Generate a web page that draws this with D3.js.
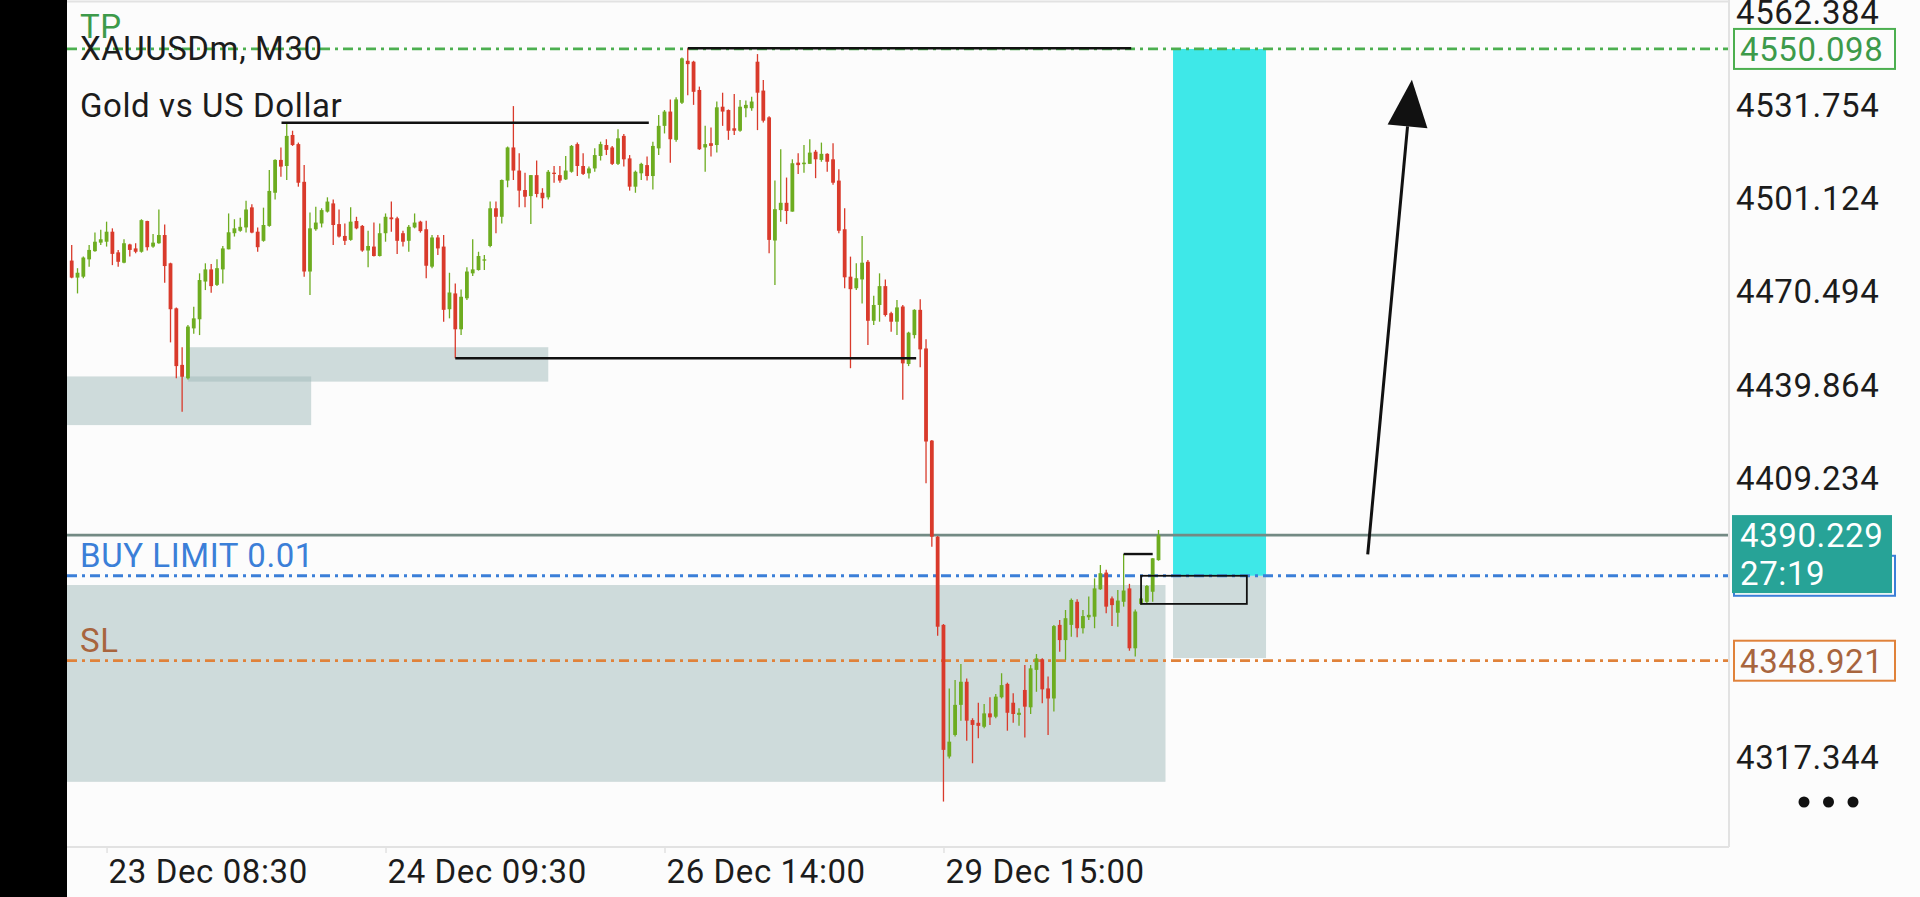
<!DOCTYPE html>
<html>
<head>
<meta charset="utf-8">
<script src="https://cdn.jsdelivr.net/npm/d3@7"></script>
<style>
  html, body { margin: 0; padding: 0; background: #fcfcfc; overflow: hidden; }
  svg { display: block; font-family: Roboto, "Noto Sans", sans-serif; }
  svg text { letter-spacing: 0.6px; }
</style>
</head>
<body>
<svg id="chart" width="1920" height="897"></svg>
<script>
// XAUUSDm, M30 — open / high / low / close per bar
const opens = [
  4480.5,4474.9,4475.2,4480.9,4483.6,4486.4,4486.7,4490.0,4483.2,4479.8,
  4485.8,4484.5,4483.4,4493.5,4485.1,4486.2,4488.9,4479.6,4464.8,4446.2,
  4441.8,4458.2,4461.2,4473.6,4477.6,4472.5,4477.6,4484.2,4489.5,4490.3,
  4491.4,4498.0,4490.0,4487.0,4491.9,4502.8,4513.6,4511.6,4521.8,4518.8,
  4506.4,4476.9,4490.8,4492.7,4496.6,4499.3,4492.5,4488.6,4487.3,4493.5,
  4491.9,4483.8,4485.1,4482.0,4489.5,4494.7,4494.4,4489.5,4487.0,4491.4,
  4493.3,4490.8,4478.5,4488.1,4485.1,4464.5,4469.7,4457.9,4468.1,4476.3,
  4477.4,4480.5,4485.3,4497.7,4494.9,4506.8,4517.7,4510.1,4503.7,4501.7,
  4508.6,4502.8,4501.3,4509.4,4508.6,4507.2,4509.7,4518.8,4511.6,4509.2,
  4510.8,4514.9,4518.5,4517.7,4512.3,4521.5,4514.1,4504.8,4509.2,4511.9,
  4508.3,4517.4,4524.8,4529.5,4520.2,4532.4,4546.2,4545.9,4536.6,4517.7,
  4519.1,4518.5,4531.1,4530.0,4524.0,4523.2,4530.6,4530.6,4545.9,4536.4,
  4527.6,4487.1,4497.1,4499.5,4496.6,4512.7,4512.2,4512.3,4516.3,4513.6,
  4515.6,4513.8,4506.8,4490.8,4475.2,4471.4,4474.3,4480.1,4460.7,4465.9,
  4472.1,4463.2,4460.4,4465.4,4446.5,4456.0,4464.3,4451.6,4421.3,4389.7,
  4360.7,4317.4,4324.5,4334.4,4342.0,4329.4,4328.5,4327.2,4331.6,4330.5,
  4336.9,4341.3,4335.1,4331.1,4339.3,4333.6,4345.9,4349.4,4339.8,4336.5,
  4360.7,4355.7,4360.7,4368.3,4359.6,4363.2,4363.4,4372.4,4377.9,4369.4,
  4364.7,4368.3,4372.7,4353.0,4367.6,4368.3,4371.6,4382.0
];
const highs = [
  4485.6,4478.0,4481.8,4485.6,4489.7,4490.6,4493.3,4491.1,4484.0,4487.5,
  4486.0,4486.2,4494.1,4493.6,4489.2,4497.3,4492.4,4479.8,4465.1,4452.0,
  4459.3,4465.3,4476.3,4479.6,4479.4,4480.9,4485.3,4496.0,4494.1,4494.6,
  4500.2,4499.0,4491.4,4497.9,4510.3,4513.8,4517.7,4525.8,4523.2,4519.3,
  4511.9,4496.3,4498.2,4497.7,4501.3,4500.6,4497.3,4492.7,4498.0,4494.9,
  4492.2,4490.3,4493.0,4492.7,4496.0,4499.9,4494.9,4490.3,4492.2,4496.0,
  4493.6,4493.6,4488.9,4488.9,4488.9,4476.5,4473.0,4471.0,4478.3,4487.5,
  4483.4,4482.3,4499.9,4499.9,4507.2,4518.0,4531.3,4515.8,4509.4,4508.6,
  4513.4,4504.3,4510.3,4511.6,4511.6,4514.9,4518.5,4519.3,4515.8,4511.4,
  4517.4,4519.6,4520.4,4518.2,4523.7,4522.1,4515.2,4510.1,4512.7,4514.7,
  4519.6,4528.4,4530.0,4533.5,4534.2,4547.3,4550.3,4546.2,4537.7,4524.8,
  4524.3,4532.8,4535.7,4530.2,4535.3,4533.3,4533.1,4534.4,4548.4,4539.9,
  4528.0,4506.8,4517.1,4507.8,4513.8,4515.8,4518.5,4520.4,4516.9,4519.3,
  4515.8,4519.1,4510.5,4497.7,4481.8,4479.6,4488.6,4480.7,4468.9,4476.3,
  4474.3,4463.7,4467.5,4465.9,4457.1,4464.5,4467.8,4454.6,4421.5,4389.9,
  4361.0,4339.8,4342.6,4347.8,4343.1,4330.0,4335.1,4334.7,4336.9,4338.0,
  4344.8,4341.7,4338.2,4333.3,4347.5,4347.5,4351.1,4349.7,4343.7,4360.7,
  4362.3,4365.6,4369.4,4369.1,4365.6,4370.0,4376.0,4380.4,4378.8,4370.0,
  4372.2,4384.0,4374.2,4365.8,4370.0,4373.8,4382.6,4391.9
];
const lows = [
  4474.7,4469.7,4474.7,4478.5,4483.4,4485.6,4485.1,4479.0,4478.5,4479.6,
  4481.8,4482.9,4483.1,4483.8,4484.7,4486.0,4473.2,4453.6,4441.8,4430.8,
  4441.4,4456.4,4456.0,4470.8,4469.9,4472.1,4473.0,4484.2,4488.4,4490.0,
  4489.7,4489.5,4483.4,4486.7,4491.6,4500.6,4508.1,4507.0,4518.2,4504.8,
  4475.2,4469.2,4490.3,4491.4,4496.3,4485.6,4488.1,4485.6,4487.0,4490.8,
  4483.4,4478.3,4481.8,4481.8,4486.7,4490.0,4482.7,4485.1,4483.4,4491.1,
  4489.7,4474.7,4478.0,4482.3,4460.4,4461.5,4448.4,4456.0,4467.5,4475.4,
  4477.2,4477.4,4484.9,4489.5,4492.7,4504.6,4507.0,4498.0,4498.0,4492.5,
  4501.3,4497.7,4500.6,4506.1,4506.1,4507.0,4509.4,4508.3,4508.6,4507.5,
  4509.7,4513.4,4515.2,4511.9,4511.9,4511.4,4503.5,4502.8,4507.0,4506.8,
  4503.9,4515.2,4522.3,4512.7,4519.6,4532.0,4534.9,4531.7,4516.9,4509.7,
  4514.7,4516.0,4524.8,4520.2,4521.8,4522.9,4527.6,4529.8,4523.4,4525.9,
  4482.9,4472.5,4493.3,4492.5,4496.6,4509.0,4509.4,4512.3,4507.6,4513.0,
  4509.7,4505.4,4489.5,4471.4,4445.1,4470.8,4466.4,4452.7,4459.3,4460.4,
  4462.1,4457.1,4456.0,4434.7,4445.8,4454.9,4445.4,4407.3,4386.4,4357.1,
  4302.6,4316.8,4324.0,4329.2,4322.6,4315.2,4323.4,4326.7,4327.8,4330.0,
  4336.5,4325.9,4328.5,4327.5,4323.7,4331.4,4338.7,4334.9,4324.5,4332.2,
  4351.9,4349.2,4356.8,4356.6,4357.9,4362.3,4359.6,4372.2,4364.5,4360.3,
  4360.1,4366.7,4352.2,4350.3,4367.2,4367.8,4368.3,4381.8
];
const closes = [
  4474.9,4476.5,4481.5,4484.0,4486.7,4487.5,4490.0,4482.7,4480.1,4486.2,
  4484.0,4483.4,4493.8,4484.9,4486.4,4488.9,4478.7,4464.5,4445.8,4442.3,
  4458.8,4461.5,4474.1,4477.6,4472.1,4478.0,4484.5,4489.8,4491.1,4491.6,
  4497.3,4489.7,4484.9,4492.2,4503.4,4513.6,4511.4,4521.5,4518.5,4506.1,
  4476.9,4491.1,4493.0,4497.1,4499.9,4492.2,4488.4,4487.0,4493.3,4491.1,
  4483.8,4485.3,4482.0,4489.5,4494.9,4494.1,4487.0,4486.7,4491.6,4493.0,
  4490.2,4478.8,4488.1,4484.5,4464.3,4470.0,4457.9,4468.6,4476.9,4477.6,
  4482.0,4480.9,4497.7,4494.9,4507.0,4517.7,4510.1,4503.5,4501.5,4508.6,
  4502.4,4501.0,4509.7,4509.0,4506.8,4510.1,4518.2,4511.6,4509.0,4510.8,
  4515.2,4518.8,4516.9,4512.3,4520.7,4513.8,4504.8,4509.7,4512.3,4508.3,
  4518.2,4524.8,4529.5,4520.4,4533.5,4547.0,4545.1,4536.0,4517.1,4518.8,
  4518.2,4530.9,4529.5,4523.2,4523.2,4531.1,4531.7,4532.8,4535.7,4526.5,
  4487.3,4497.4,4499.5,4496.8,4512.5,4511.9,4512.7,4516.0,4513.8,4515.6,
  4513.0,4506.1,4490.3,4475.0,4471.1,4474.7,4479.8,4460.7,4465.9,4472.1,
  4462.6,4460.4,4465.1,4446.7,4456.8,4464.3,4451.3,4421.0,4389.7,4360.1,
  4319.6,4322.3,4334.4,4342.0,4329.2,4327.8,4327.5,4331.6,4330.3,4337.1,
  4340.9,4331.8,4331.4,4331.8,4333.8,4346.4,4349.7,4339.5,4336.5,4360.3,
  4355.7,4362.9,4368.9,4359.6,4363.6,4364.0,4372.7,4377.7,4366.7,4367.2,
  4368.7,4372.0,4353.0,4365.1,4369.4,4373.5,4382.6,4390.229
];

// time axis
const timeTickBars = [6, 54, 102, 150];
const timeTickLabels = ["23 Dec 08:30", "24 Dec 09:30", "26 Dec 14:00", "29 Dec 15:00"];

// price axis
const priceTicks = [4562.384, 4531.754, 4501.124, 4470.494, 4439.864, 4409.234, 4317.344];
const visiblePriceRange = [4287.66, 4565.53];

// order levels
const takeProfit = 4550.098;
const stopLoss = 4348.921;
const buyLimit = 4376.85;
const bidPrice = 4390.229;
const barCountdown = "27:19";
const orderLabel = "BUY LIMIT 0.01";
const symbolLabel = "XAUUSDm, M30";
const symbolName = "Gold vs US Dollar";

// shaded zones: [fromBar, toBar, upperPrice, lowerPrice]
const grayZones = [
  [-2, 41.2, 4442.4, 4426.4],
  [20, 82, 4452.0, 4440.7],
  [-2, 188.2, 4373.8, 4309.1],
  [189.5, 205.5, buyLimit, 4349.8]
];
const rewardZone = [189.5, 205.5, takeProfit, buyLimit];

// hand-drawn horizontal lines: [fromBar, toBar, price]
const trendLines = [
  [36.1, 99.3, 4525.8],
  [106, 182.3, 4550.3],
  [66, 145.3, 4448.4],
  [181, 186, 4384.0]
];
const entryBox = [184, 202.2, buyLimit, 4367.6];

// projection arrow: [bar, price]
const arrowFrom = [223, 4383.9];
const arrowTo = [230.6, 4540.0];

// ---------------------------------------------------------------
const W = 1920, H = 897;
const plot = { left: 67, right: 1729, top: 2, bottom: 847 };
const FONT = "Roboto, 'Noto Sans', sans-serif";
const FS = 33;

const colors = {
  bull: "#6dac20",
  bear: "#d93a2b",
  zone: "rgb(160,185,185)",
  reward: "#3ee8e8",
  tp: "#4caf50",
  tpText: "#3d9a4a",
  sl: "#e0823a",
  slText: "#a8653e",
  buy: "#3b7fd8",
  bid: "#738a84",
  bidBox: "#27a397",
  ink: "#1c1c1c",
  frame: "#e2e2e2"
};

const svg = d3.select("#chart");
svg.append("rect").attr("width", W).attr("height", H).attr("fill", "#fcfcfc");

const x = d3.scaleLinear().domain([0, opens.length - 1]).range([71.7, 1158.5]);
const y = d3.scaleLinear().domain(visiblePriceRange).range([plot.bottom, plot.top]);

svg.append("clipPath").attr("id", "plotClip")
  .append("rect")
  .attr("x", plot.left).attr("y", plot.top)
  .attr("width", plot.right - plot.left).attr("height", plot.bottom - plot.top);

const g = svg.append("g").attr("clip-path", "url(#plotClip)");

// shaded zones
g.selectAll("rect.zone").data(grayZones).join("rect")
  .attr("class", "zone")
  .attr("x", d => x(d[0]))
  .attr("width", d => x(d[1]) - x(d[0]))
  .attr("y", d => y(d[2]))
  .attr("height", d => y(d[3]) - y(d[2]))
  .attr("fill", colors.zone)
  .attr("fill-opacity", 0.5);

g.append("rect")
  .attr("x", x(rewardZone[0]))
  .attr("width", x(rewardZone[1]) - x(rewardZone[0]))
  .attr("y", y(rewardZone[2]))
  .attr("height", y(rewardZone[3]) - y(rewardZone[2]))
  .attr("fill", colors.reward);

// order level lines
const dash = "10 5 3 5";
[[takeProfit, colors.tp], [buyLimit, colors.buy], [stopLoss, colors.sl]].forEach(([p, c]) => {
  g.append("line")
    .attr("x1", plot.left).attr("x2", plot.right)
    .attr("y1", y(p)).attr("y2", y(p))
    .attr("stroke", c).attr("stroke-width", 2.8)
    .attr("stroke-dasharray", dash);
});

// bid line
g.append("line")
  .attr("x1", plot.left).attr("x2", plot.right)
  .attr("y1", y(bidPrice)).attr("y2", y(bidPrice))
  .attr("stroke", colors.bid).attr("stroke-width", 2.6);

// candles
const bars = opens.map((o, i) => ({ i, o, h: highs[i], l: lows[i], c: closes[i] }));
const candle = g.selectAll("g.bar").data(bars).join("g").attr("class", "bar");
candle.append("line")
  .attr("x1", d => x(d.i)).attr("x2", d => x(d.i))
  .attr("y1", d => y(d.h)).attr("y2", d => y(d.l))
  .attr("stroke", d => d.c >= d.o ? colors.bull : colors.bear)
  .attr("stroke-width", 1.3);
candle.append("rect")
  .attr("x", d => x(d.i) - 1.9)
  .attr("width", 3.8)
  .attr("y", d => y(Math.max(d.o, d.c)))
  .attr("height", d => Math.max(1.3, Math.abs(y(d.o) - y(d.c))))
  .attr("fill", d => d.c >= d.o ? colors.bull : colors.bear);

// hand-drawn lines
g.selectAll("line.trend").data(trendLines).join("line")
  .attr("class", "trend")
  .attr("x1", d => x(d[0])).attr("x2", d => x(d[1]))
  .attr("y1", d => y(d[2])).attr("y2", d => y(d[2]))
  .attr("stroke", "#111").attr("stroke-width", 2.4);

g.append("rect")
  .attr("x", x(entryBox[0]))
  .attr("width", x(entryBox[1]) - x(entryBox[0]))
  .attr("y", y(entryBox[2]))
  .attr("height", y(entryBox[3]) - y(entryBox[2]))
  .attr("fill", "none").attr("stroke", "#111").attr("stroke-width", 1.8);

// arrow
(function drawArrow() {
  const x0 = x(arrowFrom[0]), y0 = y(arrowFrom[1]);
  const x1 = x(arrowTo[0]), y1 = y(arrowTo[1]);
  const len = Math.hypot(x1 - x0, y1 - y0);
  const ux = (x1 - x0) / len, uy = (y1 - y0) / len;
  const headLen = 47, headHalf = 20;
  const bx = x1 - ux * headLen, by = y1 - uy * headLen;
  g.append("line")
    .attr("x1", x0).attr("y1", y0).attr("x2", bx).attr("y2", by)
    .attr("stroke", "#111").attr("stroke-width", 3);
  g.append("path")
    .attr("d", `M${x1},${y1}L${bx - uy * headHalf},${by + ux * headHalf}L${bx + uy * headHalf},${by - ux * headHalf}Z`)
    .attr("fill", "#111");
})();

// frame
svg.append("line").attr("x1", plot.left).attr("x2", plot.right).attr("y1", 1.5).attr("y2", 1.5)
  .attr("stroke", colors.frame).attr("stroke-width", 2);
svg.append("line").attr("x1", plot.right).attr("x2", plot.right).attr("y1", 0).attr("y2", plot.bottom)
  .attr("stroke", colors.frame).attr("stroke-width", 2);
svg.append("line").attr("x1", plot.left).attr("x2", plot.right).attr("y1", plot.bottom).attr("y2", plot.bottom)
  .attr("stroke", colors.frame).attr("stroke-width", 2);

// chart captions
const caption = (txt, yy, fill) => svg.append("text")
  .attr("x", 80).attr("y", yy).attr("fill", fill)
  .attr("font-family", FONT).attr("font-size", FS).text(txt);
caption("TP", y(takeProfit) - 11, colors.tpText);
caption(symbolLabel, 59.5, colors.ink);
caption(symbolName, 116.7, colors.ink);
caption(orderLabel, y(buyLimit) - 9, colors.buy);
caption("SL", y(stopLoss) - 9, colors.slText);

// price axis
const yAxis = d3.axisRight(y).tickValues(priceTicks).tickFormat(d3.format(".3f"))
  .tickSize(0).tickPadding(7);
svg.append("g")
  .attr("transform", `translate(${plot.right},0)`)
  .call(yAxis)
  .call(a => a.select(".domain").remove())
  .call(a => a.selectAll("text")
    .attr("font-family", FONT).attr("font-size", FS).attr("fill", colors.ink).attr("dy", "0.36em"));

// time axis
const xAxis = d3.axisBottom(x).tickValues(timeTickBars)
  .tickFormat((d, i) => timeTickLabels[i]).tickSize(6).tickPadding(7);
svg.append("g")
  .attr("transform", `translate(0,${plot.bottom})`)
  .call(xAxis)
  .call(a => a.select(".domain").remove())
  .call(a => a.selectAll(".tick line").attr("stroke", colors.frame).attr("stroke-width", 1.5))
  .call(a => a.selectAll("text")
    .attr("font-family", FONT).attr("font-size", FS).attr("fill", colors.ink)
    .attr("text-anchor", "start").attr("x", 1.5));

// price tags on the right
function priceTag(price, stroke, textFill, label) {
  const cy = y(price);
  svg.append("rect")
    .attr("x", 1734).attr("y", cy - 20).attr("width", 161).attr("height", 40)
    .attr("fill", "#fcfcfc").attr("stroke", stroke).attr("stroke-width", 2);
  if (label) {
    svg.append("text").attr("x", 1740).attr("y", cy).attr("dy", "0.36em")
      .attr("font-family", FONT).attr("font-size", FS).attr("fill", textFill).text(label);
  }
}
priceTag(takeProfit, colors.tp, colors.tpText, d3.format(".3f")(takeProfit));
priceTag(stopLoss, colors.sl, colors.slText, d3.format(".3f")(stopLoss));
priceTag(buyLimit, colors.buy, colors.buy, null);

// bid tag with bar countdown
const bidY = y(bidPrice);
svg.append("rect")
  .attr("x", 1732).attr("y", bidY - 20).attr("width", 160).attr("height", 78)
  .attr("fill", colors.bidBox);
svg.append("text").attr("x", 1740).attr("y", bidY).attr("dy", "0.36em")
  .attr("font-family", FONT).attr("font-size", FS).attr("fill", "#ffffff")
  .text(d3.format(".3f")(bidPrice));
svg.append("text").attr("x", 1740).attr("y", bidY + 38).attr("dy", "0.36em")
  .attr("font-family", FONT).attr("font-size", FS).attr("fill", "#ffffff")
  .text(barCountdown);

// menu dots
svg.selectAll("circle.menu").data([0, 1, 2]).join("circle")
  .attr("class", "menu")
  .attr("cx", d => 1804 + d * 24.5).attr("cy", 802).attr("r", 5.5)
  .attr("fill", "#111");

// left edge strip
svg.append("rect").attr("x", 0).attr("y", 0).attr("width", plot.left).attr("height", H).attr("fill", "#000");
</script>
</body>
</html>
